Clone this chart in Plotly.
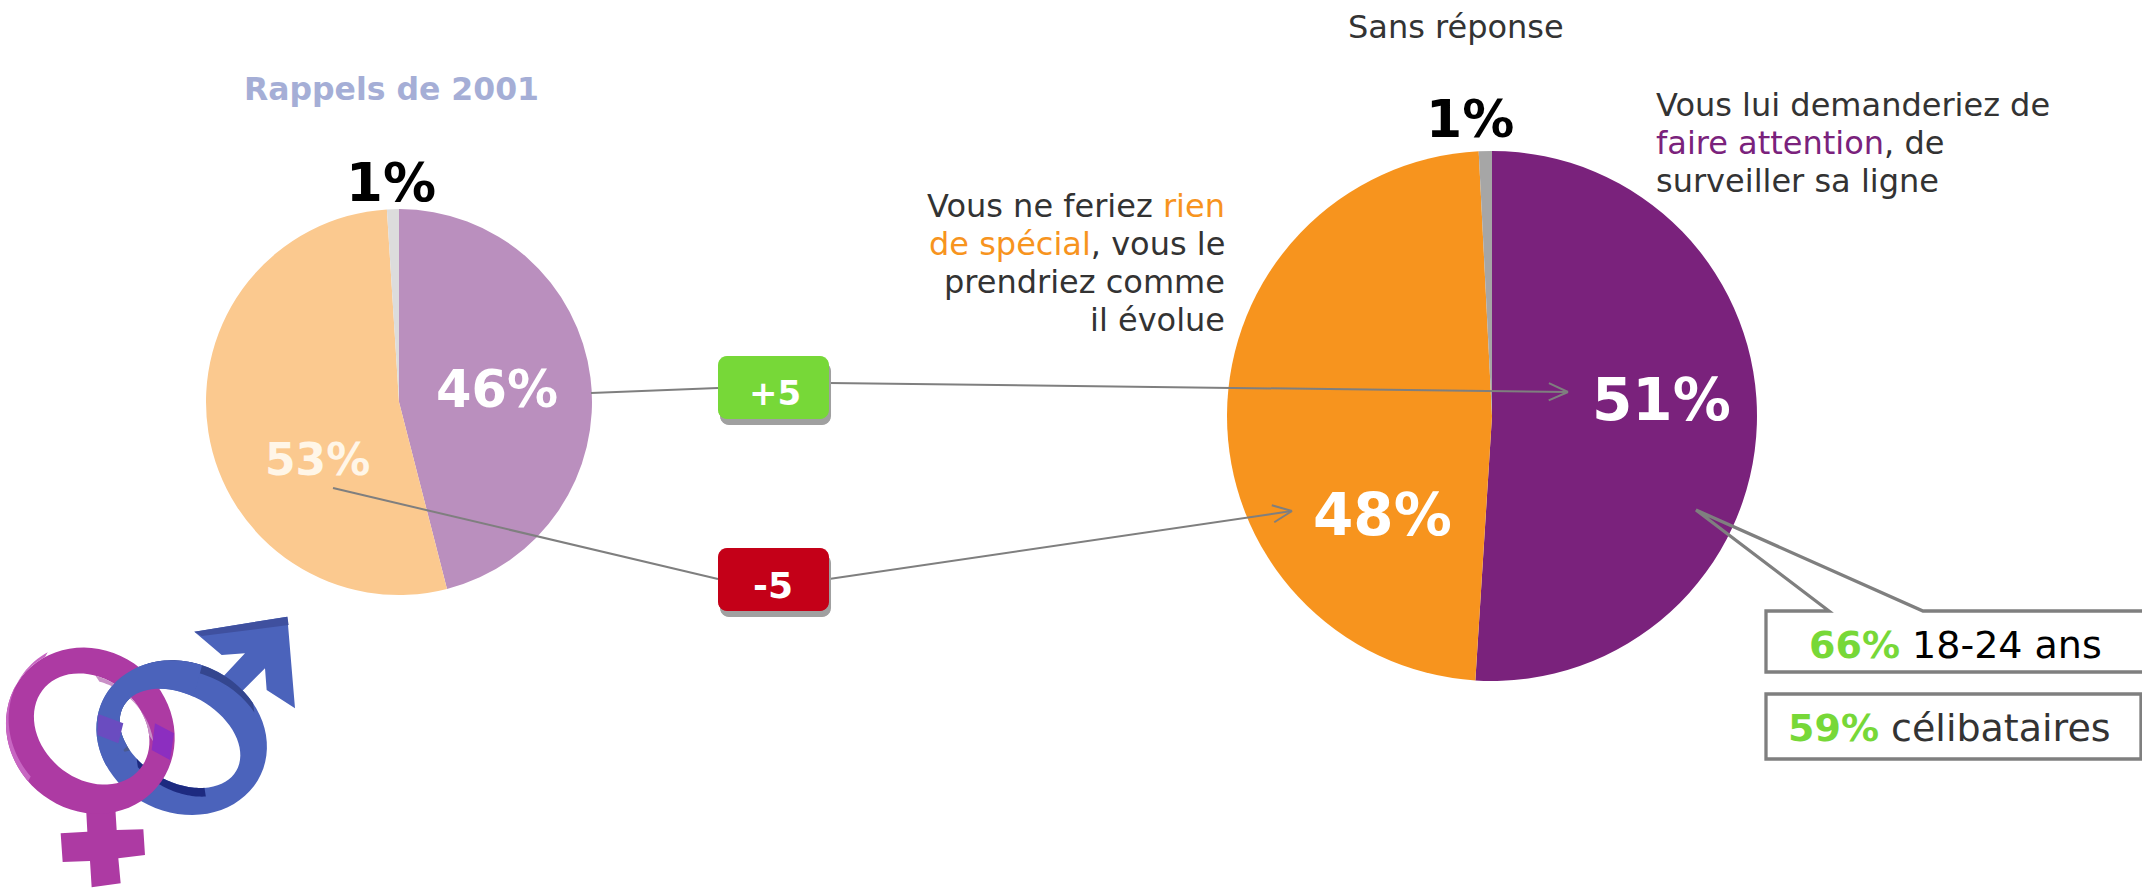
import numpy as np
import plotly.graph_objects as go

W, H = 2142, 888
FONT = "DejaVu Sans"

categories_2001 = ["Faire attention", "Rien de spécial", "Sans réponse"]
values_2001 = [46, 53, 1]
labels_2001 = ["46%", "53%", "1%"]
colors_2001 = ["#ba8fbe", "#fbc98f", "#dcdcdc"]
categories_now = ["Faire attention", "Rien de spécial", "Sans réponse"]
values_now = [51, 48.2, 0.8]
labels_now = ["51%", "48%", "1%"]
colors_now = ["#7a227c", "#f7941e", "#a6a6a6"]
delta_labels = ["+5", "-5"]
details = [("66%", "18-24 ans", "#000000"), ("59%", "célibataires", "#333333")]

GREY = "#7f7f7f"
GREEN = "#77d838"
RED = "#c40018"
DARK = "#333333"


def X(x):
    return x / W


def Y(y):
    return 1 - y / H


def pie(values, labels, colors, cx, cy, r, name):
    return go.Pie(
        values=values, labels=labels, name=name, sort=False, direction="clockwise", rotation=0,
        marker=dict(colors=colors, line=dict(width=0)), textinfo="none", showlegend=False,
        hoverinfo="label+percent",
        domain=dict(x=[X(cx - r), X(cx + r)], y=[Y(cy + r), Y(cy - r)]),
    )


fig = go.Figure()
fig.add_trace(pie(values_2001, categories_2001, colors_2001, 399, 402, 193, "2001"))
fig.add_trace(pie(values_now, categories_now, colors_now, 1492, 416, 265, "Now"))

shapes = []
annots = []


def path_from(points, close=True):
    s = "M " + " L ".join(f"{X(px):.5f},{Y(py):.5f}" for px, py in points)
    return s + (" Z" if close else "")


def add_path(points, fill=None, line=None, width=0, close=True):
    shapes.append(dict(type="path", xref="paper", yref="paper", path=path_from(points, close),
                       fillcolor=fill if fill else "rgba(0,0,0,0)", fillrule="evenodd",
                       line=dict(color=line if line else "rgba(0,0,0,0)", width=width),
                       layer="above"))


def add_line(a, b, arrow=False):
    add_path([a, b], line=GREY, width=2, close=False)
    if arrow:
        ang = np.arctan2(b[1] - a[1], b[0] - a[0])
        for sign in (-1, 1):
            t = ang + np.pi + sign * 0.42
            add_path([b, (b[0] + 21 * np.cos(t), b[1] + 21 * np.sin(t))], line=GREY, width=2, close=False)


def rrect(x0, y0, x1, y1, r=9):
    pts = []
    for cx, cy, a0 in [(x1 - r, y0 + r, -90), (x1 - r, y1 - r, 0), (x0 + r, y1 - r, 90), (x0 + r, y0 + r, 180)]:
        for a in np.radians(np.arange(a0, a0 + 91, 15)):
            pts.append((cx + r * np.cos(a), cy + r * np.sin(a)))
    return pts


def text(x, y, s, size, color=DARK, xanchor="center", align="center", bold=False):
    annots.append(dict(
        xref="paper", yref="paper", x=X(x), y=Y(y), text=f"<b>{s}</b>" if bold else s,
        showarrow=False, xanchor=xanchor, yanchor="middle", align=align,
        font=dict(family=FONT, size=size, color=color),
    ))


# connector lines
add_line((591, 393), (718, 388))
add_line((829, 383), (1568, 392), arrow=True)
add_line((333, 488), (718, 579))
add_line((829, 579), (1292, 511), arrow=True)

# delta badges
for y0, col in [(356, GREEN), (548, RED)]:
    add_path(rrect(720, y0 + 6, 831, y0 + 69), fill="#a0a0a0")
    add_path(rrect(718, y0, 829, y0 + 63), fill=col)

# call-out boxes
add_path([(1696, 510), (1923, 611), (2150, 611), (2150, 672), (1766, 672), (1766, 611), (1829, 611)],
         line=GREY, width=3.3)
add_path([(1766, 694), (2141, 694), (2141, 759), (1766, 759)], line=GREY, width=3.3)


# gender symbols (decoration, traced in the coordinates of the picture)
def zp(pts):
    return [(zx / 3, 560 + zy / 3) for zx, zy in pts]


def ell(cx, cy, a, b, tilt, t0=0.0, t1=360.0, n=72):
    t = np.radians(np.linspace(t0, t1, n))
    c, s = np.cos(np.radians(tilt)), np.sin(np.radians(tilt))
    return [(cx + a * np.cos(u) * c - b * np.sin(u) * s, cy + a * np.cos(u) * s + b * np.sin(u) * c) for u in t]


def ring(outer, inner, fill):
    shapes.append(dict(type="path", xref="paper", yref="paper", layer="above", fillcolor=fill, fillrule="evenodd",
                       line=dict(width=0),
                       path=path_from(outer) + " " + path_from(inner)))


def crescent(e, dx, dy, t0, t1, fill):
    """Band along an arc of ellipse e, bounded by the same arc shifted by (dx, dy)."""
    cx, cy, a, b, tilt = e
    add_path(zp(ell(cx, cy, a, b, tilt, t0, t1, 36) + ell(cx + dx, cy + dy, a, b, tilt, t1, t0, 36)), fill=fill)


M_OUT = (545, 533, 262, 225, 25)
M_IN = (540, 535, 195, 130, 30)
F_OUT = (271, 512, 262, 240, 40)
F_IN = (275, 507, 188, 150, 40)
PURPLE = "#ad3aa3"
BLUE = "#4b63bb"

# male: arrow, ring and rims
add_path(zp([(655, 365), (735, 280), (665, 285), (583, 215), (862, 170), (885, 445), (800, 390), (795, 325),
             (712, 408), (655, 370)]), fill=BLUE)
add_path(zp([(583, 215), (862, 170), (866, 195), (605, 228)]), fill="#3f509f")
ring(zp(ell(*M_OUT)), zp(ell(*M_IN)), BLUE)
crescent(M_OUT, 4, 28, 225, 305, "#34468f")
crescent(M_IN, 4, 26, 45, 115, "#1d2a80")
crescent(M_IN, -16, 4, 125, 200, "#4a5a90")
# female ring, cross and rims
add_path(zp([(258, 740), (345, 730), (350, 810), (430, 808), (435, 885), (355, 895), (362, 970), (275, 982),
             (270, 903), (188, 906), (182, 820), (262, 815)]), fill=PURPLE)
ring(zp(ell(*F_OUT)), zp(ell(*F_IN)), PURPLE)
crescent(F_IN, 12, 18, 240, 320, "#c98fc6")
crescent(F_OUT, 8, -14, 100, 200, "#c766c2")
add_path(zp([(465, 490), (522, 520), (510, 600), (455, 570)]), fill="#8c2ec0")
# male ring passes over the female ring at upper left
ang = (130, 262)
o = zp(ell(*M_OUT, *ang, 30))
i = zp(ell(*M_IN, *ang[::-1], 30))
add_path(o + i, fill=BLUE)
add_path(zp([(295, 462), (370, 490), (355, 550), (292, 525)]), fill="#6a4cc0")

# texts
text(391, 89, "Rappels de 2001", 31.5, color="#a5aed6", bold=True)
text(1456, 27, "Sans réponse", 32)
for i, line in enumerate(["Vous ne feriez <span style='color:#f7941e'>rien</span>",
                          "<span style='color:#f7941e'>de spécial</span>, vous le",
                          "prendriez comme", "il évolue"]):
    text(1227, 206 + 38 * i, line, 32, xanchor="right", align="right")
for i, line in enumerate(["Vous lui demanderiez de",
                          "<span style='color:#7a227c'>faire attention</span>, de",
                          "surveiller sa ligne"]):
    text(1654, 105 + 38 * i, line, 32, xanchor="left", align="left")

text(497, 389, labels_2001[0], 51, color="#ffffff", bold=True)
text(317, 459, labels_2001[1], 44, color="#fff6e8", bold=True)
text(391, 182, labels_2001[2], 53, color="#000000", bold=True)
text(1661, 400, labels_now[0], 58, color="#ffffff", bold=True)
text(1382, 515, labels_now[1], 58, color="#ffffff", bold=True)
text(1470, 119, labels_now[2], 52, color="#000000", bold=True)
text(775, 393, delta_labels[0], 34, color="#ffffff", bold=True)
text(773, 585, delta_labels[1], 36, color="#ffffff", bold=True)
for (pct, lab, col), (x, y) in zip(details, [(1955, 645), (1949, 728)]):
    text(x, y, f"<b><span style='color:{GREEN}'>{pct}</span></b> <span style='color:{col}'>{lab}</span>", 38)

fig.update_layout(
    width=W, height=H, margin=dict(l=0, r=0, t=0, b=0), paper_bgcolor="#ffffff",
    font=dict(family=FONT), showlegend=False, shapes=shapes, annotations=annots,
)
fig.write_html("out.html", post_script="document.body.style.margin='0';document.documentElement.style.overflow='hidden';",
               config=dict(displayModeBar=False))
